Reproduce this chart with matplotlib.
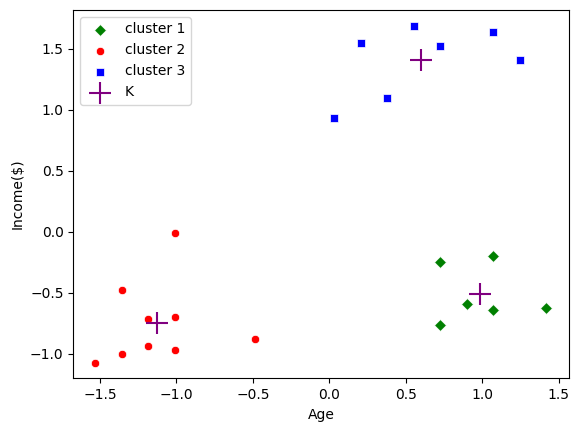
import numpy as np
import matplotlib
matplotlib.use('Agg')
import matplotlib.pyplot as plt

# Dados (Age e Income padronizados)
age_c1 = [0.726, 1.071, 0.900, 1.071, 1.419, 0.726]
inc_c1 = [-0.243, -0.199, -0.595, -0.642, -0.620, -0.767]

age_c2 = [-1.007, -1.354, -1.184, -1.007, -1.184, -1.354, -1.007, -1.530, -0.484]
inc_c2 = [-0.013, -0.480, -0.716, -0.694, -0.932, -0.997, -0.964, -1.071, -0.882]

age_c3 = [0.033, 0.209, 0.379, 0.556, 0.724, 1.071, 1.247]
inc_c3 = [0.930, 1.544, 1.093, 1.686, 1.520, 1.634, 1.405]

# Centróides
cent_age = [0.984, -1.127, 0.598]
cent_inc = [-0.508, -0.746, 1.407]

fig = plt.figure(figsize=(5.79, 4.32), dpi=100)
ax = fig.add_axes([0.1266, 0.1243, 0.8561, 0.8526])

ax.scatter(age_c1, inc_c1, color='green', marker='D', s=36,
           edgecolors='white', linewidths=0.5, label='cluster 1')
ax.scatter(age_c2, inc_c2, color='red', marker='o', s=36,
           edgecolors='white', linewidths=0.5, label='cluster 2')
ax.scatter(age_c3, inc_c3, color='blue', marker='s', s=36,
           edgecolors='white', linewidths=0.5, label='cluster 3')
ax.scatter(cent_age, cent_inc, color='purple', marker='+', s=250,
           linewidths=1.5, label='K')

ax.set_xlim(-1.674, 1.568)
ax.set_ylim(-1.20, 1.818)

ax.set_xlabel('Age')
ax.set_ylabel('Income($)')
ax.legend(loc='upper left')

fig.savefig('out.png', dpi=100)
